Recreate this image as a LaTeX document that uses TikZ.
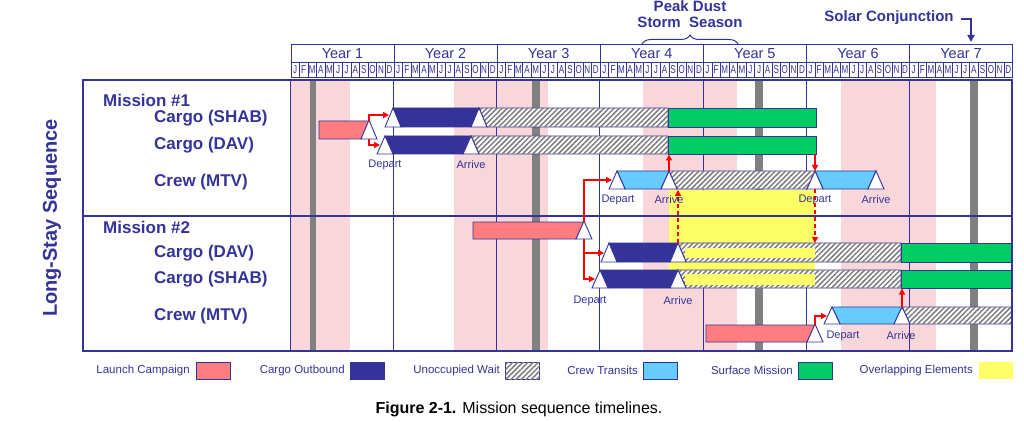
\documentclass[tikz,border=0pt]{standalone}
\usepackage{graphicx}
\usepackage{fontspec}
\setmainfont{Liberation Sans}
\usetikzlibrary{arrows.meta,patterns.meta,decorations.pathreplacing}
\definecolor{navy}{RGB}{51,51,153}
\definecolor{launchc}{RGB}{255,124,128}
\definecolor{crewc}{RGB}{102,204,255}
\definecolor{surfc}{RGB}{0,204,102}
\definecolor{overc}{RGB}{255,255,102}
\definecolor{dustc}{RGB}{248,214,218}
\definecolor{conjc}{RGB}{128,128,128}
\definecolor{hatchc}{RGB}{125,125,125}
\definecolor{redc}{RGB}{255,0,0}
\newcommand{\fsz}[1]{\fontsize{#1}{#1}\selectfont}
\newcommand{\mytri}[3]{\filldraw[trist] ({#1-8},#3) -- (#1,#2) -- ({#1+8},#3) -- cycle;}
\newcommand{\segAA}[5]{\filldraw[#1] (#2,#4) -- (#3,#4) -- ({#3-8},#5) -- ({#2+8},#5) -- cycle;}
\newcommand{\segFA}[5]{\filldraw[#1] (#2,#4) -- (#3,#4) -- ({#3-8},#5) -- (#2,#5) -- cycle;}
\newcommand{\segAF}[5]{\filldraw[#1] (#2,#4) -- (#3,#4) -- (#3,#5) -- ({#2+8},#5) -- cycle;}
\tikzset{
  bar/.style={draw=navy, line width=0.9pt},
  trist/.style={bar, fill=white},
  launch/.style={bar, fill=launchc},
  cargo/.style={bar, fill=navy},
  crewt/.style={bar, fill=crewc},
  surf/.style={bar, fill=surfc},
  hatchfill/.style={fill=white, postaction={pattern={Lines[angle=45,distance=3.6pt,line width=1.5pt]}, pattern color=hatchc}},
  hatch/.style={bar, hatchfill},
  yearcell/.style={draw=navy, line width=0.8pt, inner sep=0, minimum width=103.1pt, minimum height=18pt, anchor=north west, text=navy, font=\fsz{14.5}},
  monthcell/.style={draw=navy, line width=0.6pt, inner sep=0, minimum width=8.5917pt, minimum height=15pt, anchor=north west, text=navy, font=\fsz{11.5}},
  rowlab/.style={anchor=west, inner sep=0, text=navy, font=\bfseries\fsz{17}},
  evlab/.style={inner sep=0, text=navy, font=\fsz{11}},
  legtext/.style={anchor=east, inner sep=0, text=navy, font=\fsz{11.5}},
  legbox/.style={draw=navy, line width=0.9pt, minimum width=34pt, minimum height=17pt, inner sep=0},
  redarr/.style={draw=redc, line width=1.3pt, -{Triangle[length=6pt,width=6pt]}},
  reddash/.style={redarr, dash pattern=on 4pt off 3pt},
  topnote/.style={inner sep=0, text=navy, font=\bfseries\fsz{15}}
}
\begin{document}
\begin{tikzpicture}[x=1pt,y=-1pt]
\useasboundingbox (0,0) rectangle (1024,422);
% dust storm seasons
\foreach \a/\b in {291/350,454/548,643/737,841/936} \fill[dustc] (\a,80) rectangle (\b,351);
% solar conjunctions
\foreach \a/\b in {310/316,532/540,755/763,970/978} \fill[conjc] (\a,80) rectangle (\b,351);
% year lines
\foreach \k in {0,...,7} \draw[navy, line width=0.8pt] ({290.5+\k*103.1},80) -- ({290.5+\k*103.1},351);
% overlapping elements
\fill[overc] (669,190) rectangle (815,288);

% header
\foreach \yr in {0,...,6} {
  \pgfmathtruncatemacro{\yn}{\yr+1}
  \node[yearcell] (year\yn) at ({290.5+\yr*103.1},44) {Year \yn};
  \foreach \mm [count=\ci from 0] in {J,F,M,A,M,J,J,A,S,O,N,D} {
    \node[monthcell] (m\yn-\ci) at ({290.5+\yr*103.1+\ci*8.5917},62) {\scalebox{0.7}[1]{\mm}};
  }
}

% ---- Mission 1
% cargo SHAB  (108-127)
\segAA{cargo}{393}{479}{108}{127}
\segAF{hatch}{479}{668}{108}{127}
\filldraw[surf] (668,108) rectangle (816,127);
\mytri{393}{108}{127}
\mytri{479}{108}{127}
% launch (121-139)
\segFA{launch}{319}{369}{121}{139}
\mytri{369}{120}{139}
% cargo DAV (136-154)
\segAA{cargo}{385}{471}{136}{154}
\segAF{hatch}{471}{668}{136}{154}
\filldraw[surf] (668,136) rectangle (816,154);
\mytri{385}{136}{154}
\mytri{471}{136}{154}
% crew (171-189)
\segAA{crewt}{617}{669}{171}{189}
\segAA{hatch}{669}{815}{171}{189}
\segAA{crewt}{815}{876}{171}{189}
\mytri{617}{171}{189}
\mytri{669}{171}{189}
\mytri{815}{171}{189}
\mytri{876}{171}{189}

% ---- Mission 2
% launch (222-239)
\segFA{launch}{473}{584}{222}{239}
\mytri{584}{221}{239}
% cargo DAV (243-262)
\segAA{cargo}{609}{678}{243}{262}
\segAF{hatch}{678}{901}{243}{262}
\filldraw[surf] (901,243) rectangle (1012,262);
\fill[overc] (685,247.5) rectangle (815,258);
\mytri{609}{243}{262}
\mytri{678}{243}{262}
% cargo SHAB (270-288)
\segAA{cargo}{600}{678}{270}{288}
\segAF{hatch}{678}{901}{270}{288}
\filldraw[surf] (901,270) rectangle (1012,288);
\fill[overc] (685,274) rectangle (815,284.5);
\mytri{600}{270}{288}
\mytri{678}{270}{288}
% crew launch (325-342)
\segFA{launch}{706}{815}{325}{342}
\mytri{815}{324}{342}
% crew (307-324)
\segAA{crewt}{832}{902}{307}{324}
\segAF{hatch}{902}{1012}{307}{324}
\mytri{832}{307}{324}
\mytri{902}{307}{324}

% frame
\draw[navy, line width=2.5pt] (83,80) rectangle (1012,351);
\draw[navy, line width=2pt] (83,216) -- (1012,216);

% arrow anchor points
\coordinate (l1top) at (369,121);
\coordinate (l1bot) at (369,139);
\coordinate (s1in) at (389,115);
\coordinate (d1in) at (380,145);
\coordinate (c1arr) at (669,171);
\coordinate (g1bot) at (669,154.5);
\coordinate (g1botR) at (815,154.5);
\coordinate (c1dep) at (815,171);
\coordinate (l2top) at (584,222);
\coordinate (l2bot) at (584,239);
\coordinate (c1in) at (612,180);
\coordinate (d2in) at (604,253);
\coordinate (s2in) at (595,279);
\coordinate (d2arr) at (678,243);
\coordinate (c1arrB) at (678,190);
\coordinate (c1depB) at (815,189);
\coordinate (d2top) at (815,243);
\coordinate (l3top) at (815,325);
\coordinate (c2in) at (827,316);
\coordinate (c2arr) at (902,307);
\coordinate (s2bot) at (902,288.5);

\draw[redarr] (l1top) |- (s1in);
\draw[redarr] (l1bot) |- (d1in);
\draw[redarr] (c1arr) -- (g1bot);
\draw[redarr] (g1botR) -- (c1dep);
\draw[redarr] (l2top) |- (c1in);
\draw[redarr] (l2bot) |- (d2in);
\draw[redarr] (l2bot) |- (s2in);
\draw[reddash] (d2arr) -- (c1arrB);
\draw[reddash] (c1depB) -- (d2top);
\draw[redarr] (l3top) |- (c2in);
\draw[redarr] (c2arr) -- (s2bot);

% event labels
\node[evlab] (ev1) at (385,165) {Depart};
\node[evlab] (ev2) at (471,165) {Arrive};
\node[evlab] (ev3) at (618,200) {Depart};
\node[evlab] (ev4) at (669,200) {Arrive};
\node[evlab] (ev5) at (815,200) {Depart};
\node[evlab] (ev6) at (876,200) {Arrive};
\node[evlab] (ev7) at (590,301) {Depart};
\node[evlab] (ev8) at (678,301) {Arrive};
\node[evlab] (ev9) at (843,336) {Depart};
\node[evlab] (ev10) at (901,336) {Arrive};

% row labels
\node[rowlab] (mis1) at (103,100) {Mission \#1};
\node[rowlab] (r1a) at (154,118) {Cargo (SHAB)};
\node[rowlab] (r1b) at (154,145) {Cargo (DAV)};
\node[rowlab] (r1c) at (154,182) {Crew (MTV)};
\node[rowlab] (mis2) at (103,227) {Mission \#2};
\node[rowlab] (r2a) at (154,253) {Cargo (DAV)};
\node[rowlab] (r2b) at (154,279) {Cargo (SHAB)};
\node[rowlab] (r2c) at (154,316) {Crew (MTV)};
\node[rotate=90, inner sep=0, text=navy, font=\bfseries\fsz{20}] (lss) at (52,218) {Long-Stay Sequence};

% top notes
\node[topnote] (peak) at (690,6.5) {Peak Dust};
\node[topnote] (storm) at (690,22) {Storm\ \ Season};
\draw[navy, line width=1pt, decorate, decoration={brace, amplitude=9pt}] (642,44) -- (738,44);
\node[topnote] (solar) at (889,18) {Solar Conjunction};
\coordinate (sc1) at (961,19);
\coordinate (sc2) at (971,19);
\coordinate (sc3) at (971,42);
\draw[navy, line width=2.2pt, -{Triangle[length=7pt,width=7pt]}] (sc1) -- (sc2) -- (sc3);

% legend
\node[legtext] (lt1) at (190,370.5) {Launch Campaign};
\node[legbox, fill=launchc] (lb1) at (213,370.5) {};
\node[legtext] (lt2) at (345,370.5) {Cargo Outbound};
\node[legbox, fill=navy] (lb2) at (367.5,370.5) {};
\node[legtext] (lt3) at (500,370.5) {Unoccupied Wait};
\node[legbox, hatchfill] (lb3) at (522.5,370.5) {};
\node[legtext] (lt4) at (638,370.5) {Crew Transits};
\node[legbox, fill=crewc] (lb4) at (660.5,370.5) {};
\node[legtext] (lt5) at (793,370.5) {Surface Mission};
\node[legbox, fill=surfc] (lb5) at (815.5,370.5) {};
\node[legtext] (lt6) at (973,370.5) {Overlapping Elements};
\node[legbox, draw=none, fill=overc] (lb6) at (995.5,370.5) {};

% caption
\node[inner sep=0, font=\fsz{16}] (cap) at (519,409) {\textbf{Figure 2-1.} Mission sequence timelines.};
\end{tikzpicture}
\end{document}
